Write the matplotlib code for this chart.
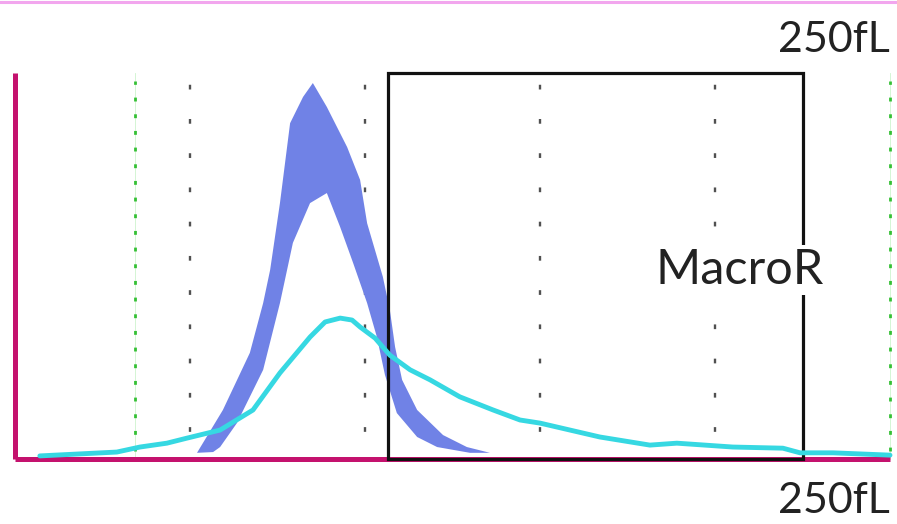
import matplotlib
matplotlib.use("Agg")
import matplotlib.pyplot as plt
from matplotlib.patches import Rectangle
from matplotlib.lines import Line2D

# ---- data (x in fL, y in relative count 0-100) ----
band_outer_x = [52.0, 59.4, 67.1, 70.9, 72.9, 75.7, 78.6, 82.3, 85.1, 89.1, 94.9,
                98.6, 100.6, 105.1, 107.1, 108.6, 110.6, 114.9, 122.3, 129.1, 135.7]
band_outer_y = [1.6, 12.7, 27.5, 40.4, 49.0, 66.3, 87.0, 93.8, 97.4, 91.2, 80.8,
                72.3, 61.1, 47.2, 38.6, 29.0, 20.5, 12.7, 6.2, 3.1, 1.6]
band_inner_x = [56.6, 58.6, 63.4, 70.9, 75.7, 79.4, 84.3, 89.1, 92.9, 96.6, 100.6,
                103.4, 105.7, 109.1, 114.9, 120.6, 130.0]
band_inner_y = [1.8, 3.1, 9.3, 23.1, 40.4, 56.0, 66.3, 68.9, 60.1, 50.8, 40.4,
                31.6, 21.8, 11.9, 5.7, 3.1, 1.6]

cyan_x = [7.1, 29.1, 35.7, 43.4, 49.1, 58.6, 68.0, 75.7, 84.3, 88.6, 92.9, 96.3,
          98.6, 102.9, 107.1, 112.9, 118.6, 127.1, 136.6, 144.3, 150.0, 167.1,
          181.4, 189.1, 205.1, 219.4, 224.3, 233.7, 250.0]
cyan_y = [0.8, 1.8, 3.1, 4.1, 5.4, 7.5, 12.7, 22.3, 31.6, 35.5, 36.5, 36.0,
          34.2, 31.3, 26.9, 23.1, 20.5, 16.1, 12.7, 10.1, 9.3, 5.7,
          3.6, 4.1, 3.1, 2.8, 1.6, 1.6, 1.0]

gray_lines = [50, 100, 150, 200]
green_lines = [34.3, 250]
macro_box = (106.6, 225.0)
label_top = "250fL"
label_bottom = "250fL"
label_box = "MacroR"

FONT = ["Lato", "DejaVu Sans"]
MAG = "#c4126e"

fig = plt.figure(figsize=(8.97, 5.24), dpi=100)
ax = fig.add_axes([15 / 897, 65 / 524, 875 / 897, 386 / 524])
ax.set_xlim(0, 250)
ax.set_ylim(0, 100)

for s in ["top", "right"]:
    ax.spines[s].set_visible(False)
for s in ["left", "bottom"]:
    ax.spines[s].set_color(MAG)
    ax.spines[s].set_linewidth(3.6)
    ax.spines[s].set_capstyle("butt")
ax.set_xticks([])
ax.set_yticks([])

for gx in gray_lines:
    ax.plot([gx, gx], [0, 100], color="#505050", lw=1.7,
            linestyle=(3, (2, 12.5)), zorder=1)
for gx in green_lines:
    ax.plot([gx, gx], [0, 100], color="#9be89b", lw=0.6, alpha=0.5,
            zorder=1, clip_on=False)
    ax.plot([gx, gx], [2, 98], color="#34c034", lw=2.0,
            linestyle=(0, (1.4, 4.6)), zorder=1, clip_on=False)

poly_x = list(band_outer_x) + list(band_inner_x[::-1])
poly_y = list(band_outer_y) + list(band_inner_y[::-1])
ax.fill(poly_x, poly_y, color="#7082e6", lw=0, zorder=2)

ax.add_patch(Rectangle((macro_box[0], 0), macro_box[1] - macro_box[0], 100,
                       fill=False, edgecolor="#111111", lw=2.3,
                       zorder=3, clip_on=False))

ax.plot(cyan_x, cyan_y, color="#36d8e2", lw=3.5, zorder=4,
        solid_capstyle="round", clip_on=False)

ax.text(207, 49, label_box, fontsize=35, family=FONT,
        color="#222222", ha="center", va="center", zorder=5,
        bbox=dict(facecolor="white", edgecolor="none", pad=2))

fig.text(890 / 897, 1 - 52 / 524, label_top, fontsize=31, family=FONT,
         color="#222222", ha="right", va="baseline")
fig.text(890 / 897, 1 - 513 / 524, label_bottom, fontsize=31, family=FONT,
         color="#222222", ha="right", va="baseline")

fig.add_artist(Line2D([0, 1], [1 - 1.5 / 524, 1 - 1.5 / 524],
                      transform=fig.transFigure, color="#f2a6ee", lw=2.2))

fig.savefig("out.png", dpi=100)
